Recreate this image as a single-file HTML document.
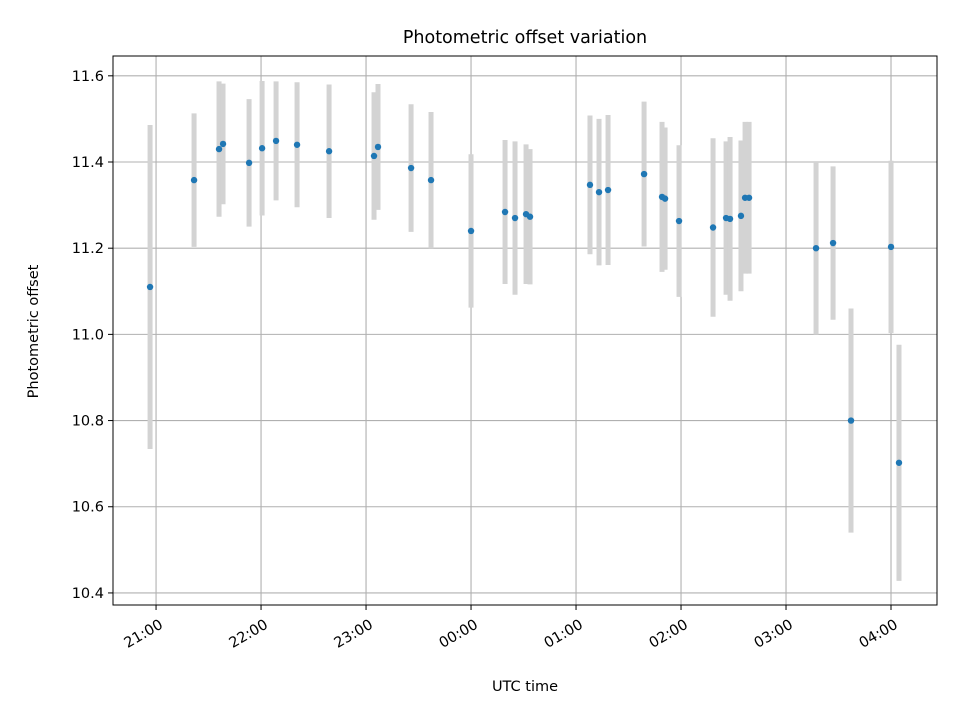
<!DOCTYPE html>
<html><head><meta charset="utf-8"><style>
body{margin:0;background:#fff;}
svg{display:block;font-family:"DejaVu Sans","Liberation Sans",sans-serif;}
</style></head><body>
<svg id="chart" width="960" height="720"></svg>
<script>
const times=[20.943,21.362,21.600,21.638,21.886,22.010,22.143,22.343,22.648,23.076,23.114,23.429,23.619,24.0,24.324,24.419,24.524,24.562,25.133,25.219,25.305,25.648,25.819,25.848,25.981,26.305,26.429,26.467,26.571,26.610,26.648,27.286,27.448,27.619,28.0,28.076];
const offsets=[11.11,11.358,11.43,11.442,11.398,11.432,11.449,11.44,11.425,11.414,11.435,11.386,11.358,11.24,11.284,11.27,11.279,11.273,11.347,11.33,11.335,11.372,11.319,11.315,11.263,11.248,11.27,11.268,11.275,11.317,11.317,11.2,11.212,10.8,11.203,10.702];
const errors=[0.376,0.155,0.157,0.14,0.148,0.156,0.138,0.145,0.155,0.148,0.146,0.148,0.158,0.178,0.167,0.178,0.162,0.157,0.161,0.17,0.174,0.168,0.174,0.165,0.176,0.207,0.178,0.19,0.175,0.176,0.176,0.2,0.178,0.26,0.2,0.274];
const xTicks=[21,22,23,24,25,26,27,28];
const xTickLabels=["21:00","22:00","23:00","00:00","01:00","02:00","03:00","04:00"];
const yTicks=[10.4,10.6,10.8,11.0,11.2,11.4,11.6];

const L=113,R=937,T=56,B=605;
const x0=20.590,x1=28.438,y0=10.372,y1=11.646;
const sx=t=>L+(t-x0)/(x1-x0)*(R-L);
const sy=v=>B-(v-y0)/(y1-y0)*(B-T);
const svg=document.getElementById('chart');
const NS='http://www.w3.org/2000/svg';
function mk(tag,attrs,parent){const e=document.createElementNS(NS,tag);for(const k in attrs)e.setAttribute(k,attrs[k]);(parent||svg).appendChild(e);return e;}

xTicks.forEach((t,i)=>{
  const g=mk('line',{x1:sx(t),x2:sx(t),y1:T,y2:B,stroke:'#b0b0b0','stroke-width':1.1});
  
  
  const tk=mk('line',{x1:sx(t),x2:sx(t),y1:B,y2:B+5,stroke:'#000','stroke-width':1});
  
  
  const X=sx(t)+3,Y=B+14;
  const lb=mk('text',{x:X,y:Y,'font-size':14.5,'text-anchor':'end','dominant-baseline':'hanging',transform:`rotate(-30 ${X} ${Y})`});
  lb.textContent=xTickLabels[i];
  
  
});
yTicks.forEach(v=>{
  const g=mk('line',{x1:L,x2:R,y1:sy(v),y2:sy(v),stroke:'#b0b0b0','stroke-width':1.1});
  
  
  const tk=mk('line',{x1:L-5,x2:L,y1:sy(v),y2:sy(v),stroke:'#000','stroke-width':1});
  
  
  const lb=mk('text',{x:L-9,y:sy(v)+5,'font-size':14.5,'text-anchor':'end'});
  lb.textContent=v.toFixed(1);
  
  
});
times.forEach((t,i)=>{
  const e=mk('line',{x1:sx(t),x2:sx(t),y1:sy(offsets[i]+errors[i]),y2:sy(offsets[i]-errors[i]),stroke:'#d3d3d3','stroke-width':5});
  
  
});
times.forEach((t,i)=>{
  const c=mk('circle',{cx:sx(t),cy:sy(offsets[i]),r:3.2,fill:'#1f77b4'});
  
  
});
const fr=mk('rect',{x:L,y:T,width:R-L,height:B-T,fill:'none',stroke:'#000','stroke-width':1});


const ti=mk('text',{x:(L+R)/2,y:43,'font-size':17.5,'text-anchor':'middle'});
ti.textContent='Photometric offset variation';


const xl=mk('text',{x:(L+R)/2,y:691,'font-size':14.5,'text-anchor':'middle'});
xl.textContent='UTC time';


const yl=mk('text',{x:38,y:(T+B)/2+1,'font-size':14.5,'text-anchor':'middle',transform:`rotate(-90 38 ${(T+B)/2+1})`});
yl.textContent='Photometric offset';


</script>
</body></html>
